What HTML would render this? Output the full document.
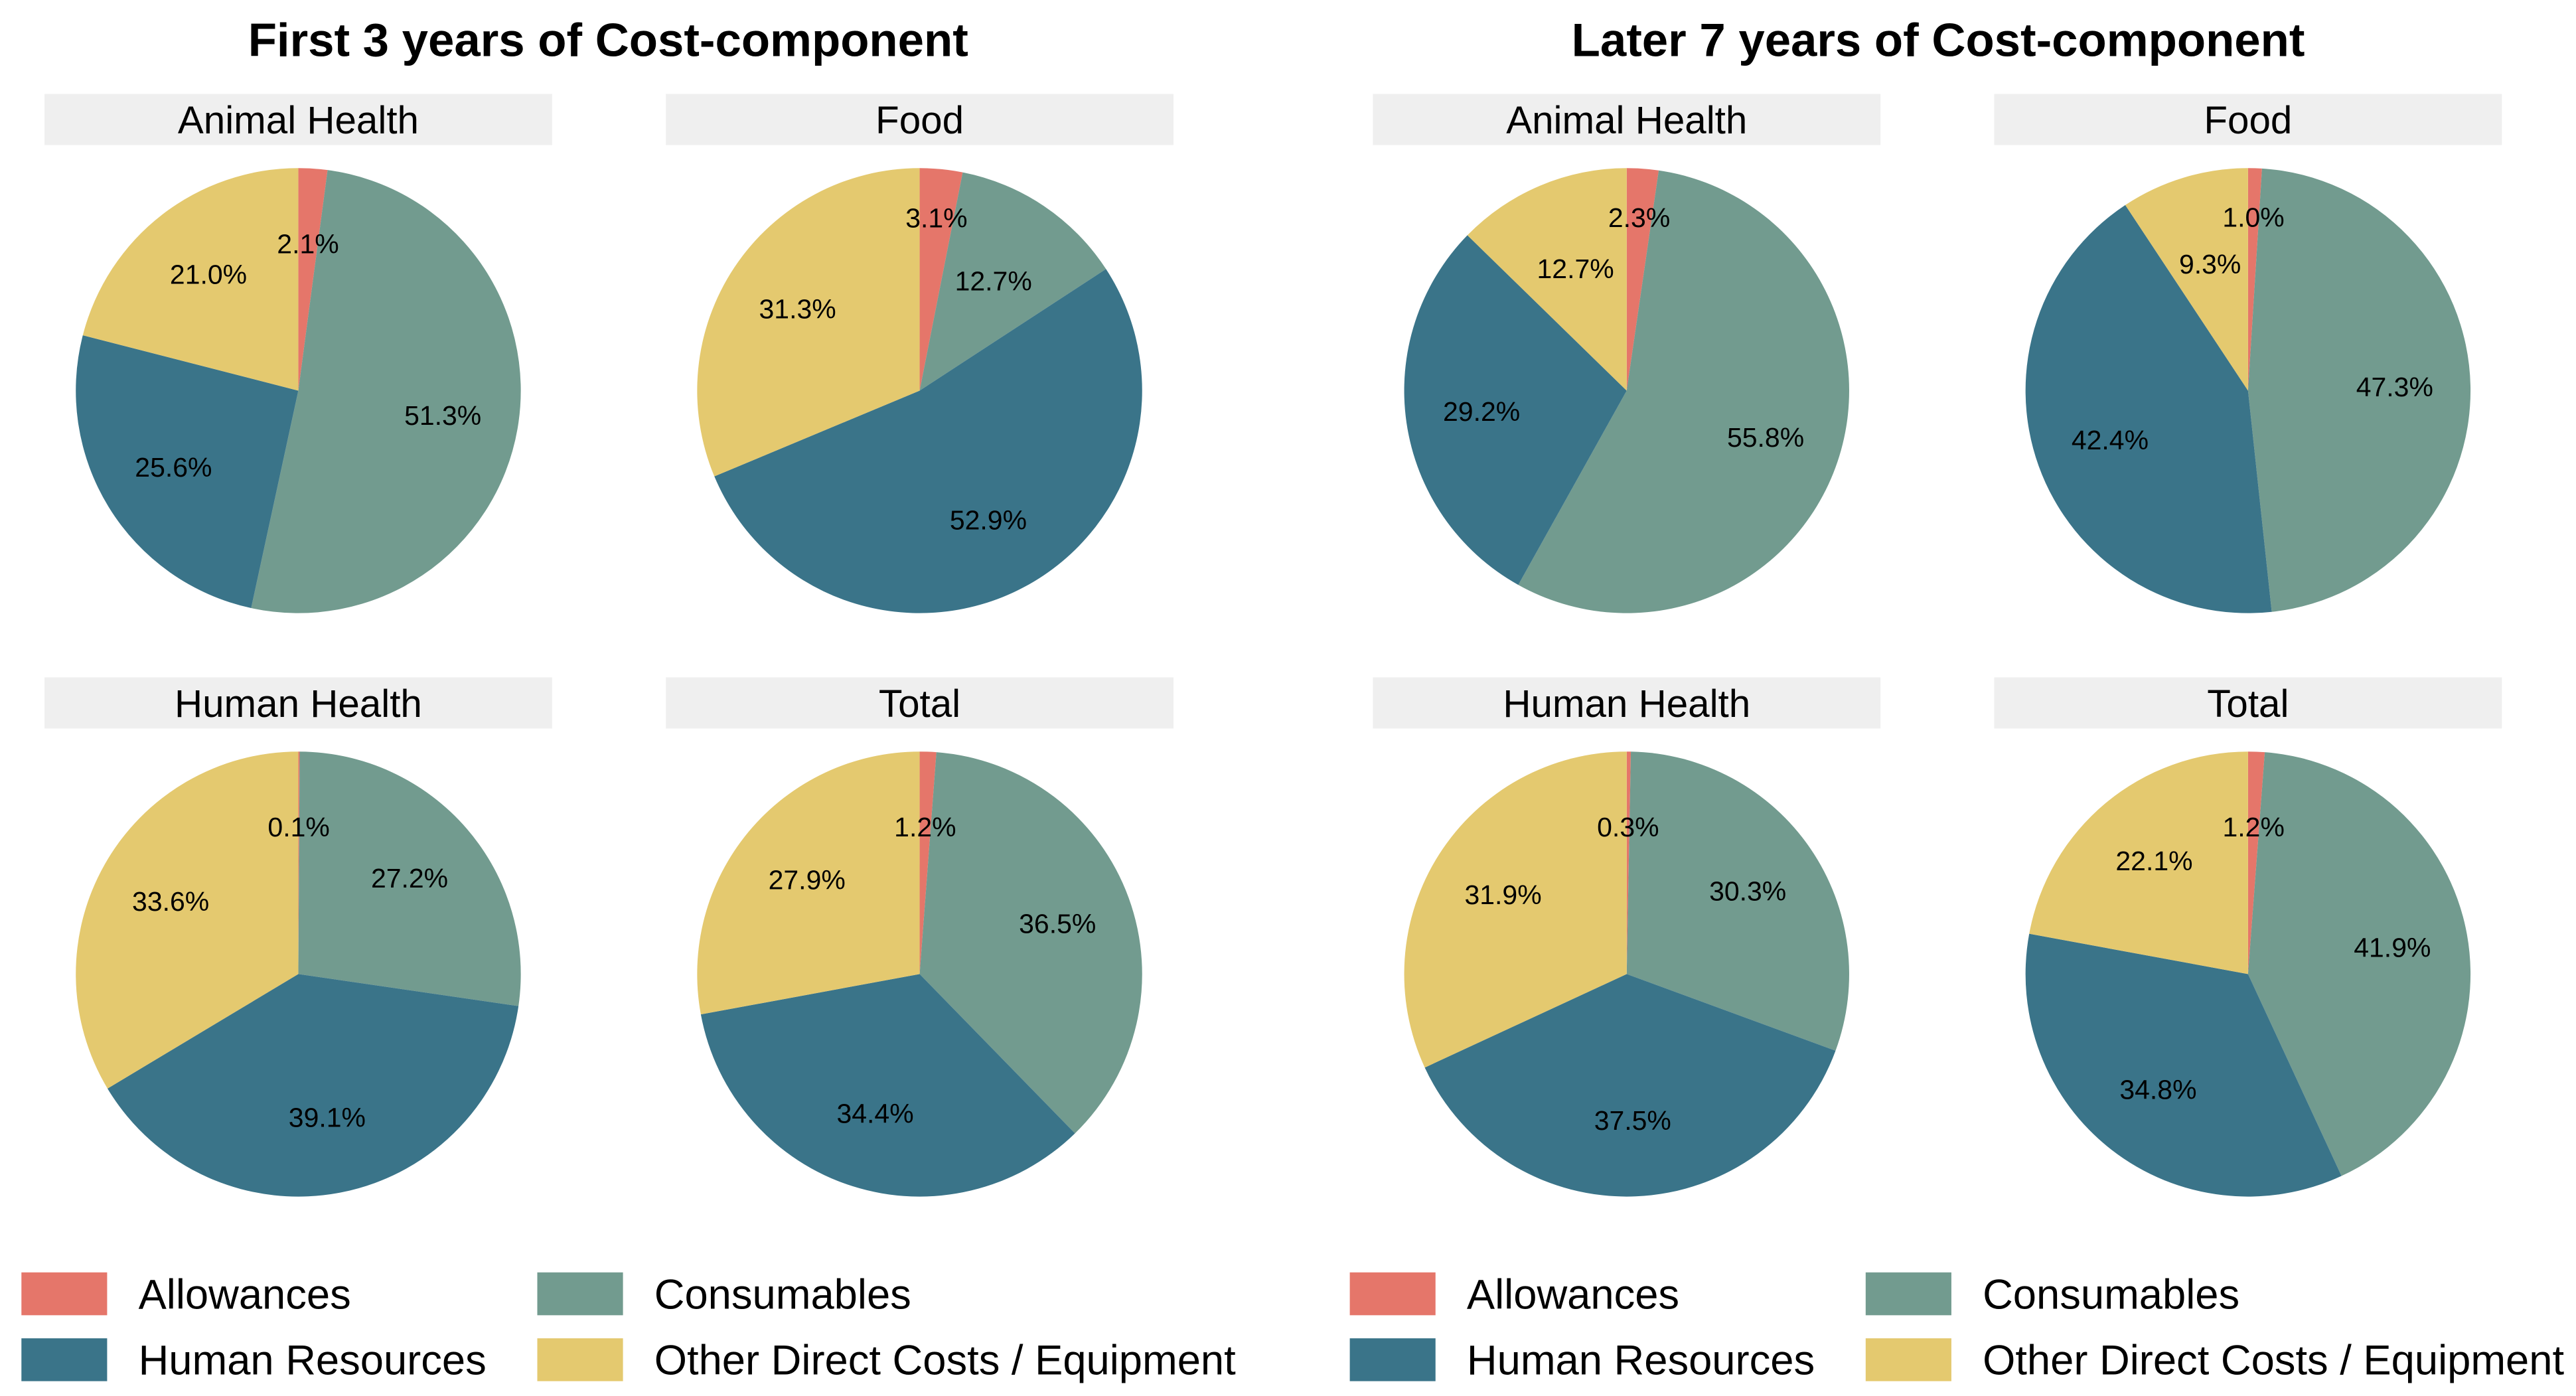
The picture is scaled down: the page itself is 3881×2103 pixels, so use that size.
<!DOCTYPE html>
<html><head><meta charset="utf-8"><style>
html,body{margin:0;padding:0;background:#fff;}
svg{display:block;font-family:"Liberation Sans",Arial,sans-serif;}
</style></head><body>
<svg id="chart" width="3881" height="2103" viewBox="0 0 1563 847" preserveAspectRatio="none" xmlns="http://www.w3.org/2000/svg">
<text x="369" y="34" text-anchor="middle" font-size="28.5" font-weight="bold">First 3 years of Cost-component</text>
<text x="1176" y="34" text-anchor="middle" font-size="28.5" font-weight="bold">Later 7 years of Cost-component</text>
<g id="pies"></g>
<g id="legends"></g>
</svg>
<script>
const categories = ["Allowances","Consumables","Human Resources","Other Direct Costs / Equipment"];
const colors = ["#E5766A","#729B8F","#3A7489","#E4C96F"];
const panelTitles = ["Animal Health","Food","Human Health","Total"];
const firstAnimal = [2.1,51.3,25.6,21.0];
const firstFood = [3.1,12.7,52.9,31.3];
const firstHuman = [0.1,27.2,39.1,33.6];
const firstTotal = [1.2,36.5,34.4,27.9];
const laterAnimal = [2.3,55.8,29.2,12.7];
const laterFood = [1.0,47.3,42.4,9.3];
const laterHuman = [0.3,30.3,37.5,31.9];
const laterTotal = [1.2,41.9,34.8,22.1];

const NS="http://www.w3.org/2000/svg";
const pies=document.getElementById('pies');
const R=135, LR=89;
function mk(t,parent){const e=document.createElementNS(NS,t);parent.appendChild(e);return e;}
function drawPie(vals,title,cx,cy,group){
  const g=mk('g',pies);
  
  
  const s=mk('rect',g);
  s.setAttribute('x',cx-154);s.setAttribute('y',cy-180);s.setAttribute('width',308);s.setAttribute('height',31);s.setAttribute('fill','#EFEFEF');
  
  
  const st=mk('text',g);
  st.setAttribute('x',cx);st.setAttribute('y',cy-156);st.setAttribute('text-anchor','middle');st.setAttribute('font-size','23.5');
  st.textContent=title;
  
  
  const tot=vals.reduce((a,b)=>a+b,0);
  let a0=0;
  const mids=[];
  vals.forEach((v,i)=>{
    const a1=a0+v/tot*2*Math.PI;
    const x0=cx+R*Math.sin(a0),y0=cy-R*Math.cos(a0),x1=cx+R*Math.sin(a1),y1=cy-R*Math.cos(a1);
    const p=mk('path',g);
    p.setAttribute('d',`M${cx},${cy}L${x0},${y0}A${R},${R} 0 ${(a1-a0)>Math.PI?1:0} 1 ${x1},${y1}Z`);
    p.setAttribute('fill',colors[i]);
    
    
    mids.push((a0+a1)/2);
    a0=a1;
  });
  const rad=vals.map(()=>LR);
  const pos=()=>mids.map((am,i)=>[cx+rad[i]*Math.sin(am),cy-rad[i]*Math.cos(am)]);
  let P=pos();
  for(let i=0;i<vals.length;i++)for(let j=0;j<vals.length;j++){
    if(i===j)continue;
    if(Math.abs(P[i][0]-P[j][0])<45&&Math.abs(P[i][1]-P[j][1])<20&&vals[i]<vals[j]){
      rad[i]=105;rad[j]=80;
    }
  }
  P=pos();
  vals.forEach((v,i)=>{
    const t=mk('text',g);
    t.setAttribute('x',P[i][0]);t.setAttribute('y',P[i][1]+5.5);
    t.setAttribute('text-anchor','middle');t.setAttribute('font-size','16.5');
    t.textContent=v.toFixed(1)+'%';
    
    
  });
}
drawPie(firstAnimal,panelTitles[0],181,237,'first');
drawPie(firstFood,panelTitles[1],558,237,'first');
drawPie(firstHuman,panelTitles[2],181,591,'first');
drawPie(firstTotal,panelTitles[3],558,591,'first');
drawPie(laterAnimal,panelTitles[0],987,237,'later');
drawPie(laterFood,panelTitles[1],1364,237,'later');
drawPie(laterHuman,panelTitles[2],987,591,'later');
drawPie(laterTotal,panelTitles[3],1364,591,'later');

const leg=document.getElementById('legends');
function drawLegend(x0,x1){
  const cols=[x0,x1,x0,x1], rows=[772,772,812,812];
  [0,1,2,3].forEach((ci,k)=>{
    const g=mk('g',leg);
    
    
    const r=mk('rect',g);
    r.setAttribute('x',cols[k]);r.setAttribute('y',rows[k]);r.setAttribute('width',52);r.setAttribute('height',26);r.setAttribute('fill',colors[ci]);
    const t=mk('text',g);
    t.setAttribute('x',cols[k]+71);t.setAttribute('y',rows[k]+22);t.setAttribute('font-size','25.5');
    t.textContent=categories[ci];
  });
}
drawLegend(13,326);
drawLegend(819,1132);
</script>
</body></html>
